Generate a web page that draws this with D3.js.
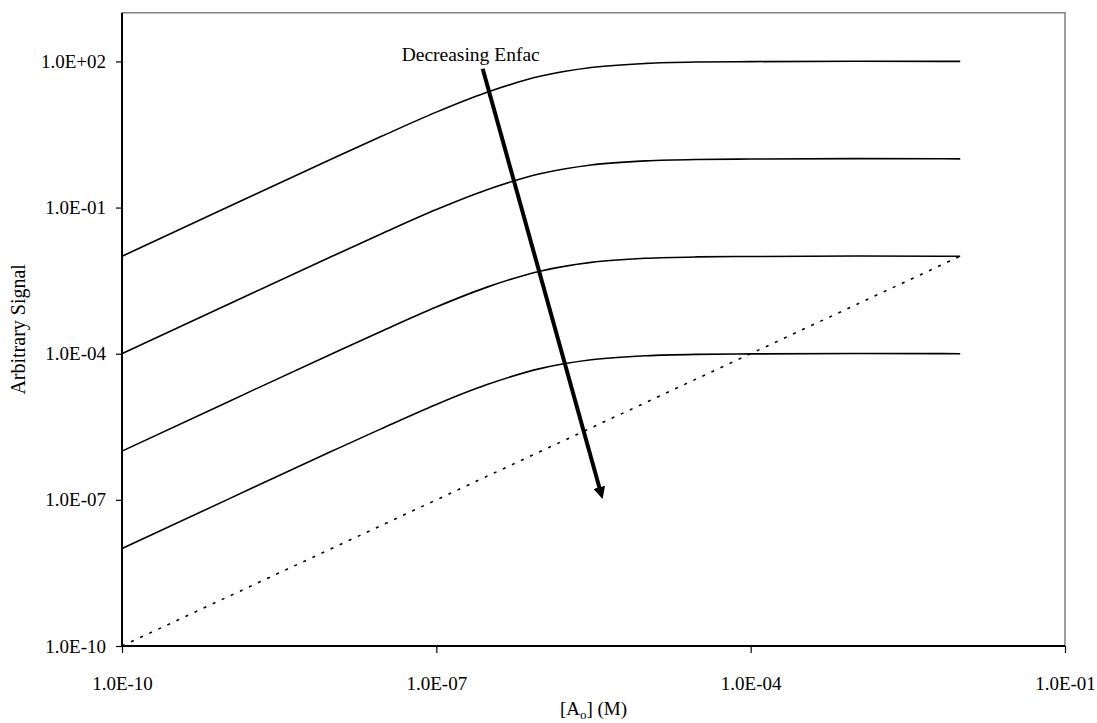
<!DOCTYPE html>
<html lang="en">
<head>
<meta charset="UTF-8">
<title>Arbitrary Signal vs [Ao]</title>
<style>
    body { margin: 0; background: #fff; }
    svg { display: block; font-family: "Liberation Serif", "Times New Roman", serif; }
</style>
</head>
<body>
<svg id="chart"></svg>
<script src="https://cdnjs.cloudflare.com/ajax/libs/d3/7.8.5/d3.min.js"></script>
<script>
// concentration points (M)
var conc = [1e-10, 1e-9, 1e-8, 3e-8, 1e-7, 3e-7, 1e-6, 3e-6, 1e-5, 3e-5, 1e-4, 1e-3, 1e-2];

// one array per Enfac level, top to bottom
var signal1 = [1e-2, 1e-1, 0.99, 2.9, 9.1, 23, 50, 75, 91, 97, 99, 101, 100];
var signal2 = [1e-4, 1e-3, 9.9e-3, 2.9e-2, 9.1e-2, 0.23, 0.50, 0.75, 0.91, 0.97, 0.99, 1.01, 1.0];
var signal3 = [1e-6, 1e-5, 9.9e-5, 2.9e-4, 9.1e-4, 2.3e-3, 5.0e-3, 7.5e-3, 9.1e-3, 9.7e-3, 9.9e-3, 1.01e-2, 1.0e-2];
var signal4 = [1e-8, 1e-7, 9.9e-7, 2.9e-6, 9.1e-6, 2.3e-5, 5.0e-5, 7.5e-5, 9.1e-5, 9.7e-5, 9.9e-5, 1.01e-4, 1.0e-4];

// dotted reference line
var refX = [1e-10, 1e-2];
var refY = [1e-10, 1e-2];

var xTicks = [1e-10, 1e-7, 1e-4, 1e-1];
var xTickLabels = ["1.0E-10", "1.0E-07", "1.0E-04", "1.0E-01"];
var yTicks = [1e-10, 1e-7, 1e-4, 1e-1, 1e2];
var yTickLabels = ["1.0E-10", "1.0E-07", "1.0E-04", "1.0E-01", "1.0E+02"];

(function () {
    var width = 1097, height = 723;
    var margin = {top: 12.7, right: 32, bottom: 77, left: 122};

    var svg = d3.select("#chart")
        .attr("width", width)
        .attr("height", height);

    svg.append("rect").attr("width", width).attr("height", height).attr("fill", "#fff");

    var x = d3.scaleLog().domain([1e-10, 1e-1]).range([margin.left, width - margin.right]);
    var y = d3.scaleLog().domain([1e-10, 1e3]).range([height - margin.bottom, margin.top]);

    // top / right frame in grey
    svg.append("path")
        .attr("d", "M" + x(1e-10) + "," + y(1e3) + "H" + x(1e-1) + "V" + y(1e-10))
        .attr("fill", "none")
        .attr("stroke", "#808080")
        .attr("stroke-width", 1.5);

    var xAxis = svg.append("g")
        .attr("transform", "translate(0," + y(1e-10) + ")")
        .call(d3.axisBottom(x).tickValues(xTicks).tickSize(7).tickPadding(24)
            .tickFormat(function (d, i) { return xTickLabels[i]; }));

    var yAxis = svg.append("g")
        .attr("transform", "translate(" + x(1e-10) + ",0)")
        .call(d3.axisLeft(y).tickValues(yTicks).tickSize(6).tickPadding(10)
            .tickFormat(function (d, i) { return yTickLabels[i]; }));

    [xAxis, yAxis].forEach(function (g) {
        g.select(".domain").attr("stroke", "#000").attr("stroke-width", 2);
        g.selectAll(".tick line").attr("stroke", "#000").attr("stroke-width", 1.2);
        g.selectAll(".tick text")
            .attr("font-family", "Liberation Serif")
            .attr("font-size", 19)
            .attr("fill", "#000");
    });
    // remove the outer tick caps d3 adds to the domain
    xAxis.select(".domain").attr("d", "M" + x(1e-10) + ",0H" + x(1e-1));
    yAxis.select(".domain").attr("d", "M0," + y(1e-10) + "V" + y(1e3));

    var line = d3.line()
        .x(function (d) { return x(d[0]); })
        .y(function (d) { return y(d[1]); })
        .curve(d3.curveMonotoneX);

    [signal1, signal2, signal3, signal4].forEach(function (s) {
        svg.append("path")
            .datum(conc.map(function (c, i) { return [c, s[i]]; }))
            .attr("d", line)
            .attr("fill", "none")
            .attr("stroke", "#000")
            .attr("stroke-width", 1.6);
    });

    svg.append("path")
        .datum(refX.map(function (c, i) { return [c, refY[i]]; }))
        .attr("d", d3.line().x(function (d) { return x(d[0]); }).y(function (d) { return y(d[1]); }))
        .attr("fill", "none")
        .attr("stroke", "#000")
        .attr("stroke-width", 1.6)
        .attr("stroke-dasharray", "3,7");

    // annotation arrow
    svg.append("defs").append("marker")
        .attr("id", "head")
        .attr("viewBox", "0 0 10 10")
        .attr("refX", 6).attr("refY", 5)
        .attr("markerWidth", 3).attr("markerHeight", 3)
        .attr("orient", "auto")
        .append("path").attr("d", "M0,0L10,5L0,10Z").attr("fill", "#000");

    svg.append("line")
        .attr("x1", x(2.77e-7)).attr("y1", y(70.5))
        .attr("x2", x(3.75e-6)).attr("y2", y(1.3e-7))
        .attr("stroke", "#000")
        .attr("stroke-width", 4)
        .attr("marker-end", "url(#head)");

    svg.append("text")
        .attr("x", x(4.67e-8)).attr("y", y(1e2))
        .attr("font-size", 19.5)
        .text("Decreasing Enfac");

    // axis titles
    var xt = svg.append("text")
        .attr("x", (x(1e-10) + x(1e-1)) / 2)
        .attr("y", 715)
        .attr("text-anchor", "middle")
        .attr("font-size", 19);
    xt.append("tspan").text("[A");
    xt.append("tspan").attr("font-size", 13).attr("dy", 4).text("o");
    xt.append("tspan").attr("dy", -4).text("] (M)");

    svg.append("text")
        .attr("transform", "translate(25," + (y(1e-10) + y(1e3)) / 2 + ") rotate(-90)")
        .attr("text-anchor", "middle")
        .attr("font-size", 20)
        .text("Arbitrary Signal");
})();
</script>
</body>
</html>
